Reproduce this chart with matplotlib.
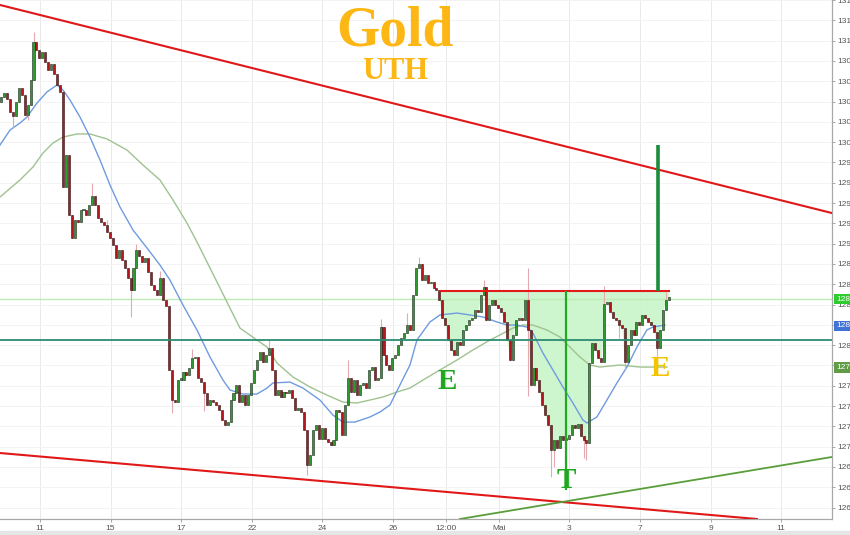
#!/usr/bin/env python3
"""Gold 2h candles, Apr/May 2019, with inverse head-and-shoulders (E-T-E) sketch."""
import numpy as np
import matplotlib
matplotlib.use('Agg')
import matplotlib.pyplot as plt
from matplotlib.patches import Rectangle

plt.rcParams.update({
    'font.family': ['Liberation Sans', 'DejaVu Sans'],
    'font.size': 6,
})

# ============================================================
# DATA (x in trading days since 11 Apr, y in USD)
# ============================================================
t_start = -1.10          # first candle, trading days
candles_per_day = 12     # 2h candles
first_open = 1304.0

closes = [
    1304.4, 1304.8, 1304.2, 1303.0, 1302.6, 1304.0, 1305.3, 1304.6, 1302.7, 1303.7, 1306.1, 1309.9,
    1309.1, 1308.3, 1308.9, 1307.9, 1307.1, 1307.7, 1306.7, 1305.6, 1304.9, 1295.6, 1298.7, 1292.8,
    1290.6, 1292.3, 1292.1, 1293.3, 1293.3, 1292.8, 1293.8, 1294.7, 1293.8, 1292.5, 1292.1, 1291.8,
    1291.1, 1290.6, 1289.9, 1288.6, 1289.4, 1288.4, 1287.6, 1286.6, 1285.4, 1287.6, 1289.4, 1288.8,
    1288.2, 1288.6, 1287.2, 1285.9, 1285.4, 1284.9, 1286.6, 1284.4, 1283.9, 1277.5, 1274.6, 1274.4,
    1276.6, 1276.6, 1277.4, 1277.1, 1277.7, 1278.7, 1278.8, 1276.8, 1276.4, 1275.3, 1274.1, 1274.6,
    1274.4, 1274.1, 1273.6, 1272.6, 1272.1, 1272.4, 1274.6, 1275.3, 1276.1, 1274.4, 1275.1, 1274.1,
    1275.1, 1276.3, 1277.5, 1278.5, 1279.3, 1278.3, 1279.0, 1279.7, 1277.5, 1275.1, 1275.6, 1274.9,
    1275.4, 1275.3, 1275.6, 1274.8, 1273.6, 1273.8, 1273.4, 1271.6, 1268.2, 1269.2, 1271.6, 1272.1,
    1270.8, 1271.8, 1270.8, 1270.5, 1270.2, 1270.7, 1273.6, 1273.4, 1271.1, 1274.1, 1276.8, 1275.4,
    1276.6, 1275.1, 1276.1, 1276.3, 1275.8, 1277.5, 1277.8, 1276.6, 1276.8, 1281.8, 1279.0, 1278.0,
    1277.5, 1278.7, 1279.0, 1280.0, 1280.7, 1281.2, 1282.0, 1281.5, 1284.9, 1287.6, 1288.0, 1286.4,
    1286.9, 1286.1, 1286.2, 1285.6, 1285.4, 1284.4, 1282.7, 1282.0, 1280.5, 1279.5, 1279.0, 1280.3,
    1280.0, 1281.5, 1282.0, 1282.5, 1282.7, 1283.5, 1283.3, 1284.9, 1285.7, 1282.5, 1284.0, 1284.4,
    1284.0, 1283.7, 1283.3, 1282.3, 1280.5, 1278.5, 1281.0, 1282.5, 1282.7, 1282.5, 1284.4, 1281.5,
    1276.1, 1277.7, 1276.6, 1275.4, 1274.1, 1273.1, 1272.1, 1269.7, 1270.7, 1269.9, 1271.0, 1270.7,
    1270.8, 1271.1, 1272.1, 1271.8, 1272.2, 1271.0, 1270.7, 1270.4, 1278.2, 1280.2, 1279.5, 1278.7,
    1278.3, 1284.1, 1284.2, 1283.3, 1282.7, 1282.5, 1282.0, 1281.7, 1278.3, 1280.0, 1281.5, 1281.0,
    1282.3, 1282.0, 1283.0, 1282.7, 1282.3, 1282.0, 1281.3, 1279.7, 1281.5, 1283.5, 1284.4, 1284.7,
]

# visible wicks beyond the body (candle index -> price)
wick_highs = {11: 1310.8, 31: 1296.0, 36: 1292.3, 46: 1290.0, 54: 1287.3, 65: 1279.6,
              91: 1280.6, 118: 1278.5, 129: 1282.6, 138: 1283.2, 142: 1288.7, 164: 1286.4,
              179: 1287.6, 205: 1285.8, 226: 1285.2}
wick_lows = {4: 1301.5, 9: 1302.2, 44: 1282.8, 58: 1273.3, 69: 1273.5, 104: 1267.2,
             179: 1275.0, 187: 1267.0, 188: 1268.0, 198: 1268.9, 199: 1268.7, 210: 1280.7,
             212: 1277.6, 223: 1278.6}

# moving averages (day, price)
ma_fast_x = [-1.133, -0.850, -0.567, -0.368, -0.085, 0.198, 0.482, 0.652, 0.850, 1.133, 1.416,
             1.700, 1.983, 2.266, 2.635, 3.031, 3.399, 3.683, 4.051, 4.448, 4.816, 5.184, 5.382,
             5.751, 6.147, 6.431, 6.601, 7.082, 7.450, 7.932, 8.300, 8.584, 8.924, 9.348, 9.632,
             9.915, 10.198, 10.482, 10.680, 11.048, 11.331, 11.813, 12.181, 12.550, 12.946,
             13.229, 13.513, 13.796, 13.966, 14.249, 14.533, 14.816, 15.099, 15.382, 15.496,
             15.779, 16.062, 16.346, 16.629, 16.912, 17.195, 17.365, 17.705]
ma_fast_y = [1299.71, 1301.19, 1301.88, 1302.47, 1303.85, 1304.94, 1305.63, 1305.13, 1304.15,
             1302.47, 1300.50, 1298.24, 1295.77, 1293.61, 1291.34, 1289.57, 1287.89, 1286.41,
             1283.95, 1281.49, 1278.83, 1276.56, 1275.58, 1275.18, 1275.18, 1275.77, 1276.27,
             1276.36, 1275.77, 1274.59, 1273.11, 1272.42, 1272.42, 1272.92, 1273.41, 1274.10,
             1276.07, 1278.04, 1280.50, 1282.28, 1282.97, 1283.16, 1282.97, 1282.77, 1282.28,
             1281.98, 1281.98, 1281.78, 1281.19, 1279.22, 1277.55, 1275.87, 1274.30, 1272.62,
             1272.33, 1272.92, 1274.59, 1276.27, 1277.84, 1279.81, 1281.49, 1281.78, 1281.98]

ma_slow_x = [-1.133, -0.567, -0.198, 0.085, 0.368, 0.652, 1.048, 1.416, 1.898, 2.465, 2.918,
             3.399, 3.768, 4.164, 4.448, 4.816, 5.241, 5.666, 6.147, 6.431, 6.714, 7.167, 7.649,
             8.130, 8.584, 8.980, 9.348, 9.717, 10.113, 10.482, 10.850, 11.331, 11.813, 12.266,
             12.748, 13.031, 13.399, 13.683, 13.966, 14.363, 14.731, 15.014, 15.297, 15.581,
             15.864, 16.431, 16.997, 17.762]
ma_slow_y = [1294.59, 1296.27, 1297.55, 1298.93, 1299.91, 1300.50, 1300.80, 1300.80, 1300.31,
             1299.22, 1297.74, 1296.27, 1294.30, 1292.03, 1290.16, 1287.60, 1284.64, 1281.68,
             1280.50, 1279.81, 1278.24, 1276.86, 1275.87, 1275.08, 1274.39, 1274.30, 1274.59,
             1274.89, 1275.38, 1275.77, 1276.56, 1277.55, 1278.53, 1279.52, 1280.50, 1281.00,
             1281.68, 1281.98, 1281.98, 1281.49, 1280.80, 1279.81, 1278.83, 1278.04, 1277.84,
             1278.04, 1277.84, 1277.84]

# drawn lines (day, price)
upper_trend = ([-1.133, 22.44], [1313.51, 1293.01])
lower_trend = ([-1.133, 20.31], [1269.37, 1262.87])
support_trend = ([11.90, 22.44], [1262.87, 1268.98])
neckline_x, neckline = (11.31, 17.84), 1285.33
level_teal = 1280.50
last_price = 1284.54
head_x, head_low = 14.90, 1265.72
target_x, target = 17.51, 1299.71

# right-axis markers (screenshot is cropped, only three digits show)
markers = [(last_price, '128', '#2ecc2e'),
           (1281.90, '128', '#3f74d6'),
           (1277.80, '127', '#5f9c45')]

# pattern letters: (day, price, text, colour)
letters = [(11.53, 1276.46, 'E', '#1fa81f'),
           (14.90, 1266.71, 'T', '#1fa81f'),
           (17.56, 1277.65, 'E', '#f2c500')]

xtick_pos = [0, 2, 4, 6, 8, 10, 11.5, 13, 15, 17, 19, 21]
xtick_labels = ['11', '15', '17', '22', '24', '26', '12:00', 'Mai', '3', '7', '9', '11']
ytick_pos = np.arange(1264, 1315, 2)
ytick_labels = [str(v)[:3] for v in ytick_pos]   # cropped at the right edge

# ============================================================
# FIGURE
# ============================================================
fig = plt.figure(figsize=(8.5, 5.35), dpi=100)
ax = fig.add_axes([0, 16 / 535, 832 / 850, 519 / 535])
ax.set_xlim(-1.133, 22.44)
ax.set_ylim(1262.87, 1314.0)

# grid
for x in xtick_pos:
    ax.axvline(x, color='#e9e9e9', lw=0.7, zorder=0)
for y in ytick_pos:
    ax.axhline(y, color='#f3f3f3', lw=0.7, zorder=0)

# candles
c = np.array(closes)
o = np.concatenate([[first_open], c[:-1]])
t = t_start + np.arange(len(c)) / candles_per_day
hi = np.maximum(o, c)
lo = np.minimum(o, c)
for i, v in wick_highs.items():
    hi[i] = v
for i, v in wick_lows.items():
    lo[i] = v

ax.vlines(t, lo, hi, color='#e3aab2', lw=0.8, zorder=3)
up = c >= o
body_h = np.maximum(np.abs(c - o), 0.12)
body_w = 0.058
ax.bar(t[up], body_h[up], body_w, bottom=np.minimum(o, c)[up],
       color='#2f9a2f', edgecolor='#1e2a1e', linewidth=0.4, zorder=3.2)
ax.bar(t[~up], body_h[~up], body_w, bottom=np.minimum(o, c)[~up],
       color='#b3161b', edgecolor='#2a1414', linewidth=0.4, zorder=3.2)

# pattern fill under the neckline
sel = (t >= neckline_x[0] - 0.01) & (t <= neckline_x[1])
ax.fill_between(t[sel], np.minimum(c[sel], neckline), neckline,
                color='#c9f5c9', alpha=0.9, lw=0, zorder=1)

# moving averages
ax.plot(ma_slow_x, ma_slow_y, color='#9fc290', lw=1.0, zorder=2.5)
ax.plot(ma_fast_x, ma_fast_y, color='#6f9be0', lw=1.0, zorder=2.6)

# horizontal levels
ax.axhline(last_price, color='#bdebb5', lw=1.0, zorder=2)
ax.axhline(level_teal, color='#2b8c72', lw=1.3, zorder=4)
ax.hlines(neckline, *neckline_x, color='#e21a1a', lw=1.5, zorder=4)

# trend lines
ax.plot(*upper_trend, color='#e01818', lw=1.5, zorder=4)
ax.plot(*lower_trend, color='#e01818', lw=1.5, zorder=4)
ax.plot(*support_trend, color='#5a9e3c', lw=1.3, zorder=4)

# measurement lines
ax.vlines(head_x, head_low, neckline, color='#22aa22', lw=1.6, zorder=4)
ax.vlines(target_x, neckline, target, color='#1a8c3a', lw=2.6, zorder=4)

# letters
for x, y, s, col in letters:
    ax.text(x, y, s, color=col, fontsize=21, fontweight='bold',
            family='Liberation Serif', ha='center', va='center', zorder=6)

ax.text(0.475, 0.940, 'Gold', transform=ax.transAxes, color='#fdb714', fontsize=40,
        fontweight='bold', family='Liberation Serif', ha='center', va='center')
ax.text(0.475, 0.862, 'UTH', transform=ax.transAxes, color='#fdb714', fontsize=22,
        fontweight='bold', family='Liberation Serif', ha='center', va='center')

# axes
ax.yaxis.tick_right()
ax.set_yticks(ytick_pos)
ax.set_yticklabels(ytick_labels)
ax.set_xticks(xtick_pos)
ax.set_xticklabels(xtick_labels)
ax.tick_params(axis='both', labelsize=6, length=2.5, width=0.6, pad=1.5,
               color='#9a9a9a', labelcolor='#555555')
for side in ('top', 'left'):
    ax.spines[side].set_visible(False)
for side in ('right', 'bottom'):
    ax.spines[side].set_color('#a8a8a8')
    ax.spines[side].set_linewidth(0.9)

# right-axis value boxes
tr = ax.get_yaxis_transform()
for y, s, col in markers:
    ax.text(1.0 + 4 / 832, y, s, transform=tr, color='white', fontsize=6,
            ha='left', va='center', clip_on=False, zorder=7,
            bbox=dict(boxstyle='square,pad=0.2', fc=col, ec='none'))

fig.patches.append(Rectangle((0, 0), 1, 4 / 535, transform=fig.transFigure,
                             color='#e6e6e6', zorder=0))

fig.savefig('out.png', dpi=100)
plt.close()
